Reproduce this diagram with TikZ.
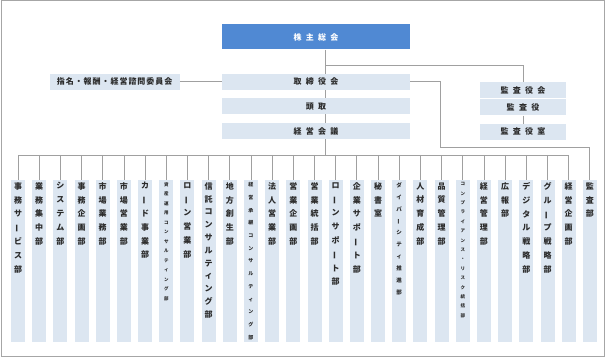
\documentclass[tikz,border=0pt]{standalone}
\usepackage{fontspec}
\usepackage{graphicx}
\setmainfont{Noto Sans CJK JP}
\newfontfamily\jpwide{Noto Sans CJK JP}[LetterSpace=54]
\newfontfamily\jpnarrow{Noto Sans CJK JP}[LetterSpace=12]
\usetikzlibrary{positioning,calc}
\definecolor{topblue}{HTML}{5089D3}
\definecolor{boxfill}{HTML}{DCE6F1}
\definecolor{linegray}{HTML}{A0A0A0}
\definecolor{framegray}{HTML}{A6A6A6}
\definecolor{textgray}{HTML}{2B2B2B}
\newcommand{\chouon}{\rotatebox[origin=c]{90}{ー}}

\begin{document}
\begin{tikzpicture}[x=1pt, y=-1pt, every node/.style={text=textgray}, headbox/.style={fill=topblue, text=white, minimum width=188pt, minimum height=25pt, inner sep=0pt, font=\jpwide\bfseries\fontsize{8}{10}\selectfont}, box/.style={fill=boxfill, minimum width=188pt, minimum height=16pt, inner sep=0pt, font=\jpwide\bfseries\fontsize{8}{10}\selectfont}, sidebox/.style={box, minimum width=86pt}, dept/.style={fill=boxfill, minimum width=14pt, minimum height=162pt, inner sep=0pt}, vtext/.style 2 args={inner sep=0pt, align=center, font=\bfseries\fontsize{#1}{#2}\selectfont}, link/.style={draw=linegray, line width=0.8pt}]
\useasboundingbox (0,0) rectangle (607,358);
\draw[framegray, line width=1pt] (1.5,1) rectangle (604.5,356.5);
% top of the chart
\node[headbox] (kabu) at (316,37) {株主総会};
\node[box, below=24pt of kabu] (tori) {取締役会};
\node[box, below=8pt of tori] (toudori) {頭取};
\node[box, below=8.5pt of toudori] (kaigi) {経営会議};
\node[box, minimum width=130pt, font=\jpnarrow\bfseries\fontsize{8}{10}\selectfont, left=42pt of tori] (shimei) {指名・報酬・経営諮問委員会};
\node[sidebox] (kansakai) at (523,90) {監査役会};
\node[sidebox, below=1pt of kansakai] (kansayaku) {監査役};
\node[sidebox, below=8pt of kansayaku] (kansashitsu) {監査役室};
% departments
\foreach \sz/\lead/\txt [count=\i] in {8/13.8/事\\務\\サ\\\chouon\\ビ\\ス\\部, 8/13.8/業\\務\\集\\中\\部, 8/13.8/シ\\ス\\テ\\ム\\部, 8/13.8/事\\務\\企\\画\\部, 8/13.8/市\\場\\業\\務\\部, 8/13.8/市\\場\\営\\業\\部, 8/13.8/カ\\\chouon\\ド\\事\\業\\部, 4.5/9.5/資\\産\\運\\用\\コ\\ン\\サ\\ル\\テ\\ィ\\ン\\グ\\部, 8/13.8/ロ\\\chouon\\ン\\営\\業\\部, 8/12.8/信\\託\\コ\\ン\\サ\\ル\\テ\\ィ\\ン\\グ\\部, 8/13.8/地\\方\\創\\生\\部, 5/12.7/経\\営\\承\\継\\コ\\ン\\サ\\ル\\テ\\ィ\\ン\\グ\\部, 8/13.8/法\\人\\営\\業\\部, 8/13.8/営\\業\\企\\画\\部, 8/13.8/営\\業\\統\\括\\部, 8/13.8/ロ\\\chouon\\ン\\サ\\ポ\\\chouon\\ト\\部, 8/13.8/企\\業\\サ\\ポ\\\chouon\\ト\\部, 8/13.8/秘\\書\\室, 5.5/11.9/ダ\\イ\\バ\\\chouon\\シ\\テ\\ィ\\推\\進\\部, 8/13.8/人\\材\\育\\成\\部, 8/13.8/品\\質\\管\\理\\部, 4.5/9.4/コ\\ン\\プ\\ラ\\イ\\ア\\ン\\ス\\・\\リ\\ス\\ク\\統\\括\\部, 8/13.8/経\\営\\管\\理\\部, 8/13.8/広\\報\\部, 8/13.8/デ\\ジ\\タ\\ル\\戦\\略\\部, 8/13.8/グ\\ル\\\chouon\\プ\\戦\\略\\部, 8/13.8/経\\営\\企\\画\\部, 8/13.8/監\\査\\部} {
  \node[dept] (d\i) at ({18+(\i-1)*21.18},261) {};
  \node[vtext={\sz}{\lead}, below=2.5pt of d\i.north] (t\i) {\txt};
}
% connectors
\coordinate (trunk) at (325,0);
\coordinate (split) at (325,65.5);
\coordinate (bus) at (0,155);
\coordinate (bend) at (440.5,147);
\draw[link] (kabu.south -| trunk) -- (tori.north -| trunk);
\draw[link] (split) -| (kansakai.north);
\draw[link] (shimei) -- (tori);
\draw[link] (tori.south -| trunk) -- (toudori.north -| trunk);
\draw[link] (toudori.south -| trunk) -- (kaigi.north -| trunk);
\draw[link] (kaigi.south -| trunk) -- (bus -| trunk);
\draw[link] (kansayaku) -- (kansashitsu);
\draw[link] (bus -| d1) -- (bus -| d27);
\foreach \i in {1,...,27} \draw[link] (bus -| d\i) -- (d\i.north);
\draw[link] (tori.east) -| (bend) -| (d28.north);
\end{tikzpicture}
\end{document}
